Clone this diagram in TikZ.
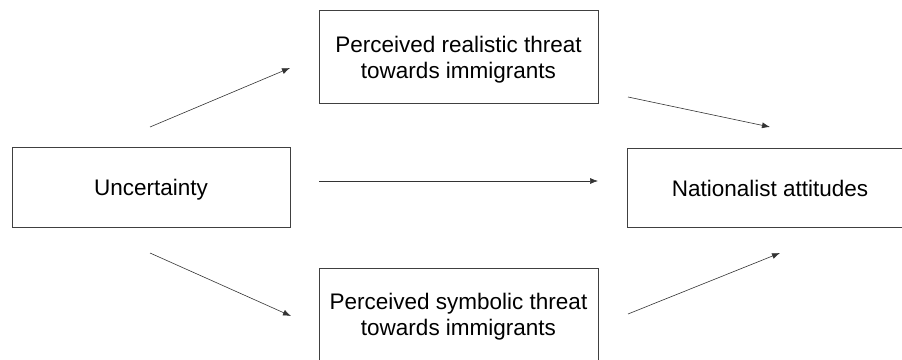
\documentclass[tikz,border=0pt]{standalone}
\usepackage{fontspec}
\setmainfont{Liberation Sans}
\usetikzlibrary{arrows.meta}
\tikzset{
varbox/.style={draw=black!75, line width=0.8pt, align=center, inner sep=0pt,
  text depth=0pt, font=\fontsize{22.5}{26}\selectfont},
link/.style={draw=black!80, line width=0.6pt, -{Latex[length=8pt,width=6pt]}}
}

\begin{document}
\begin{tikzpicture}[x=1pt, y=1pt]
  \useasboundingbox (0,0) rectangle (902,359);
  \clip (0,0) rectangle (902,359);
  \node[varbox, minimum width=278pt, minimum height=80pt] (unc) at (151,172) {Uncertainty};
  \node[varbox, minimum width=279pt, minimum height=93pt] (real) at (458.5,302) {Perceived realistic threat\\towards immigrants};
  \node[varbox, minimum width=279pt, minimum height=93pt] (symb) at (458.5,44.5) {Perceived symbolic threat\\towards immigrants};
  \node[varbox, minimum width=286pt, minimum height=79pt] (nat) at (770,171) {Nationalist attitudes};
  % arrow ends
  \coordinate (unc-up) at (150,232);
  \coordinate (real-in) at (290,291);
  \coordinate (unc-mid) at (319,178);
  \coordinate (nat-mid) at (598,178);
  \coordinate (unc-down) at (150,106);
  \coordinate (symb-in) at (291,43);
  \coordinate (real-out) at (628,262);
  \coordinate (nat-up) at (770,232);
  \coordinate (symb-out) at (628,45);
  \coordinate (nat-down) at (780,106);
  \draw[link] (unc-up) -- (real-in);
  \draw[link] (unc-mid) -- (nat-mid);
  \draw[link] (unc-down) -- (symb-in);
  \draw[link] (real-out) -- (nat-up);
  \draw[link] (symb-out) -- (nat-down);
\end{tikzpicture}
\end{document}
